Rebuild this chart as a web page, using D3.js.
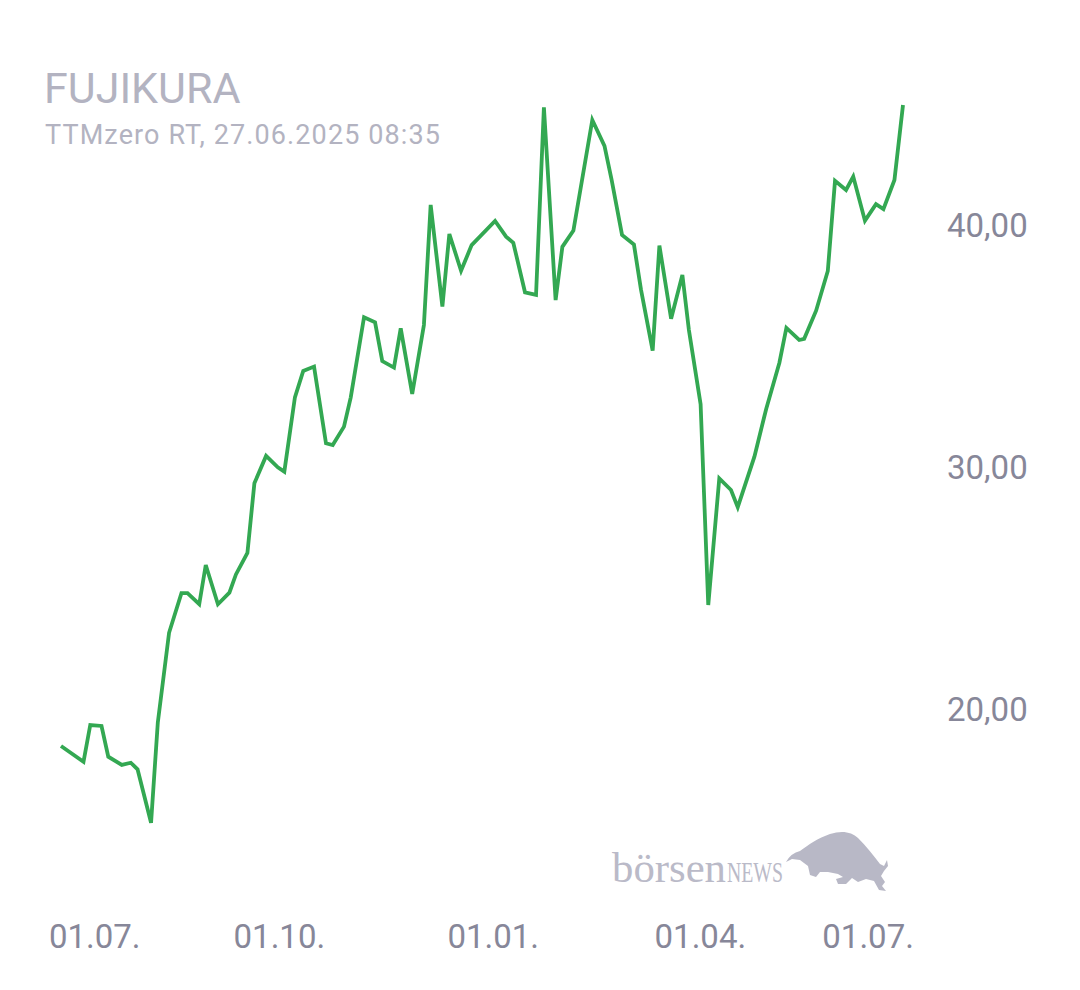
<!DOCTYPE html>
<html>
<head>
<meta charset="utf-8">
<script src="https://cdn.jsdelivr.net/npm/d3@7"></script>
<style>
  html, body { margin: 0; padding: 0; background: #ffffff; }
  svg { display: block; }
</style>
</head>
<body>
<svg id="chart" width="1080" height="990"></svg>
<script>
// ---- data ----
const title = "FUJIKURA";
const subtitle = "TTMzero RT, 27.06.2025 08:35";
// days since start of series (start ≈ mid June 2024, end 27.06.2025)
const days = [0, 10, 13, 18, 21, 27, 31, 34, 40, 43, 48, 53.5, 56.2, 61.4, 64.3, 69.7, 74.8, 77.7, 82.8, 85.9,
  91.1, 96.3, 99.2, 103.9, 107.6, 112.4, 117.7, 120.7, 125.7, 128.7, 134.6, 139.5, 142.7, 147.9, 150.9, 156.0,
  161.2, 164.2, 169.4, 172.5, 177.7, 182.4, 192.8, 197.7, 200.9, 206.1, 211.0, 214.5, 219.7, 222.7, 227.6,
  236.0, 241.4, 244.6, 249.2, 254.5, 257.6, 262.8, 265.8, 271.0, 276.0, 278.9, 284.1, 287.5, 292.4, 297.6,
  300.6, 308.0, 313.2, 319.1, 322.2, 327.9, 330.1, 335.4, 340.6, 343.8, 348.7, 351.9, 357.1, 362.0, 365.3,
  370.2, 374];
const prices = [18.51, 17.86, 19.38, 19.34, 18.07, 17.73, 17.82, 17.55, 15.34, 19.48, 23.19, 24.83, 24.83, 24.37,
  25.99, 24.37, 24.85, 25.60, 26.49, 29.37, 30.50, 30.03, 29.85, 32.92, 34.01, 34.19, 31.02, 30.95, 31.71, 32.92,
  36.23, 36.02, 34.42, 34.15, 35.77, 33.06, 35.91, 40.87, 36.67, 39.67, 38.15, 39.21, 40.21, 39.56, 39.31, 37.26,
  37.15, 44.90, 36.94, 39.14, 39.81, 44.38, 43.31, 41.90, 39.63, 39.23, 37.38, 34.85, 39.19, 36.17, 37.98, 35.70,
  32.64, 24.34, 29.57, 29.09, 28.38, 30.47, 32.43, 34.35, 35.79, 35.29, 35.34, 36.50, 38.14, 41.87, 41.49, 42.04,
  40.22, 40.90, 40.70, 41.90, 45.00];
const yTicks = [20, 30, 40];
const xTickLabels = ["01.07.", "01.10.", "01.01.", "01.04.", "01.07."];
const xTickDays = [15, 97, 192, 284, 358.5];

// ---- layout ----
const svg = d3.select("#chart");
const x = d3.scaleLinear().domain([0, 374]).range([61, 903]);
const y = d3.scaleLinear().domain([20, 40]).range([710, 226]);
const fmt = d3.formatLocale({decimal: ",", thousands: ".", grouping: [3], currency: ["", "€"]}).format(".2f");

// title
svg.append("text").attr("x", 44).attr("y", 103)
  .attr("font-family", "Roboto, sans-serif").attr("font-size", 43)
  .attr("fill", "#b3b3c1").text(title);
svg.append("text").attr("x", 45).attr("y", 144)
  .attr("font-family", "Roboto, sans-serif").attr("font-size", 27)
  .attr("textLength", 395).attr("lengthAdjust", "spacing")
  .attr("fill", "#b3b3c1").text(subtitle);

// y axis labels
svg.append("g").selectAll("text").data(yTicks).join("text")
  .attr("x", 947).attr("y", d => y(d) + 11)
  .attr("font-family", "Roboto, sans-serif").attr("font-size", 33)
  .attr("fill", "#878799").text(d => fmt(d));

// x axis labels
svg.append("g").selectAll("text").data(xTickLabels).join("text")
  .attr("x", (d, i) => x(xTickDays[i])).attr("y", 948)
  .attr("text-anchor", "middle")
  .attr("font-family", "Roboto, sans-serif").attr("font-size", 33)
  .attr("fill", "#878799").text(d => d);

// logo
const logo = svg.append("g");
logo.append("text").attr("x", 612).attr("y", 882)
  .attr("font-family", "'Liberation Serif', serif").attr("font-size", 42)
  .attr("textLength", 114).attr("lengthAdjust", "spacingAndGlyphs")
  .attr("fill", "#babac8").text("börsen");
logo.append("text").attr("x", 727).attr("y", 882)
  .attr("font-family", "'Liberation Serif', serif").attr("font-size", 30)
  .attr("textLength", 56).attr("lengthAdjust", "spacingAndGlyphs")
  .attr("fill", "#babac8").text("NEWS");
logo.append("path")
  .attr("d", "M786,862 Q791,853 800,851 C808,845 818,838 830,834 C842,830 852,832 858,838 C866,846 874,856 880,864 L884,866 L887,860 L888,866 L884,871 L881,876 L885,882 L882,886 L886,891 L879,890 L874,881 L866,879 L858,882 L852,878 L846,884 L838,884 L836,879 L843,877 L838,874 L828,872 L820,872 L816,877 L810,875 L808,866 L800,860 L792,859 Z")
  .attr("fill", "#b8b8c6");

// line
const line = d3.line().x((d, i) => x(days[i])).y(d => y(d));
svg.append("path").datum(prices)
  .attr("d", line)
  .attr("fill", "none").attr("stroke", "#33a852")
  .attr("stroke-width", 3.8).attr("stroke-linejoin", "miter");
</script>
</body>
</html>
